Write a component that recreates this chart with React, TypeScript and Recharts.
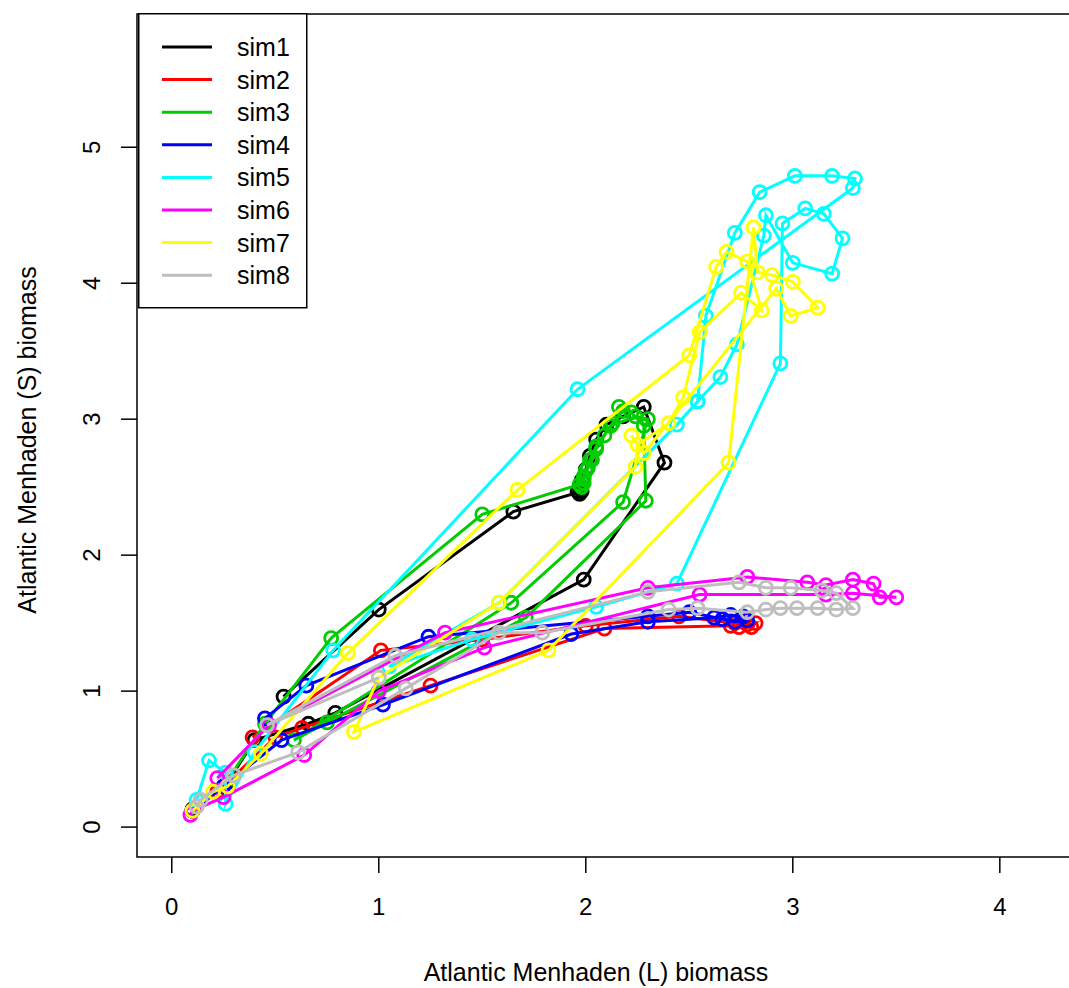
import React from "react"
import {
  ScatterChart,
  Scatter,
  XAxis,
  YAxis,
  Label,
  Legend,
  ReferenceArea,
} from "recharts"

// phase-plane trajectories, [L biomass, S biomass] per time step
const sim1: [number, number][] = [
  [0.10, 0.13], [0.27, 0.33], [0.40, 0.64], [0.66, 0.76], [0.79, 0.84], [1.99, 1.82],
  [2.38, 2.68], [2.28, 3.09], [2.18, 3.02], [2.10, 2.96], [2.05, 2.85], [2.02, 2.73],
  [2.00, 2.63], [1.98, 2.55], [1.97, 2.50], [1.96, 2.47], [1.97, 2.45], [1.98, 2.47],
  [1.65, 2.32], [1.00, 1.60], [0.54, 0.96],
]
const sim2: [number, number][] = [
  [0.10, 0.12], [0.22, 0.26], [0.50, 0.66], [0.63, 0.73], [1.25, 1.04], [2.09, 1.46],
  [2.70, 1.48], [2.74, 1.47], [2.80, 1.47], [2.82, 1.50], [2.78, 1.49], [2.72, 1.50],
  [2.45, 1.55], [2.00, 1.48], [1.50, 1.38], [1.01, 1.30], [0.39, 0.66],
]
const sim3: [number, number][] = [
  [0.10, 0.12], [0.25, 0.30], [0.45, 0.76], [0.77, 1.39], [1.50, 2.30], [1.97, 2.52],
  [1.99, 2.58], [2.01, 2.64], [2.03, 2.70], [2.05, 2.78], [2.09, 2.88], [2.13, 2.97],
  [2.18, 3.06], [2.16, 3.09], [2.22, 3.05], [2.28, 2.95], [2.29, 2.40], [1.71, 1.54],
  [0.75, 0.77], [0.59, 0.64], [1.64, 1.65], [2.18, 2.39], [2.30, 3.00], [2.24, 3.02],
  [2.12, 2.95], [2.05, 2.80], [2.02, 2.70], [2.00, 2.62], [1.99, 2.56], [1.98, 2.50],
  [1.99, 2.53],
]
const sim4: [number, number][] = [
  [0.10, 0.12], [0.25, 0.30], [0.53, 0.64], [1.02, 0.90], [1.93, 1.42], [2.30, 1.51],
  [2.62, 1.54], [2.70, 1.56], [2.76, 1.55], [2.78, 1.52], [2.72, 1.51], [2.66, 1.53],
  [2.50, 1.58], [2.30, 1.55], [1.24, 1.40], [0.65, 1.04], [0.45, 0.80],
]
const sim5: [number, number][] = [
  [0.12, 0.20], [0.18, 0.49], [0.26, 0.40], [0.26, 0.17], [0.40, 0.55], [0.78, 1.30],
  [1.96, 3.22], [3.29, 4.70], [3.30, 4.77], [3.19, 4.79], [3.01, 4.79], [2.84, 4.67],
  [2.72, 4.37], [2.58, 3.76], [2.54, 3.13], [2.44, 2.96], [1.58, 1.65], [1.05, 1.18],
  [1.45, 1.38], [2.05, 1.62], [2.44, 1.79], [2.94, 3.41], [2.95, 4.44], [3.06, 4.55],
  [3.15, 4.51], [3.24, 4.33], [3.19, 4.07], [3.00, 4.15], [2.87, 4.50], [2.86, 4.35],
  [2.73, 3.55], [2.65, 3.31], [2.54, 3.13],
]
const sim6: [number, number][] = [
  [0.09, 0.09], [0.10, 0.12], [0.25, 0.22], [0.64, 0.53], [1.00, 1.00], [1.51, 1.32],
  [2.55, 1.71], [3.16, 1.71], [3.29, 1.72], [3.50, 1.69], [3.42, 1.69], [3.39, 1.79],
  [3.29, 1.82], [3.16, 1.78], [3.07, 1.80], [2.78, 1.84], [2.30, 1.76], [1.32, 1.43],
  [0.47, 0.75], [0.22, 0.36],
]
const sim7: [number, number][] = [
  [0.10, 0.12], [0.20, 0.26], [0.27, 0.30], [0.43, 0.54], [0.85, 1.28], [1.67, 2.48],
  [2.50, 3.47], [2.63, 4.12], [2.68, 4.23], [2.78, 4.16], [2.85, 3.80], [2.75, 3.93],
  [2.55, 3.64], [2.47, 3.16], [2.40, 2.97], [2.25, 2.81], [2.24, 2.65], [1.58, 1.65],
  [1.00, 1.10], [0.88, 0.70], [1.82, 1.30], [2.69, 2.68], [2.81, 4.41], [2.83, 4.08],
  [2.90, 4.06], [3.00, 4.01], [3.12, 3.82], [2.99, 3.76], [2.92, 3.96], [2.28, 2.75],
  [2.22, 2.88],
]
const sim8: [number, number][] = [
  [0.12, 0.15], [0.14, 0.20], [0.30, 0.38], [0.61, 0.55], [1.13, 1.02], [1.58, 1.43],
  [1.79, 1.43], [2.40, 1.60], [2.54, 1.61], [2.78, 1.58], [2.87, 1.60], [2.94, 1.61],
  [3.02, 1.61], [3.12, 1.61], [3.21, 1.60], [3.29, 1.61], [3.21, 1.72], [3.14, 1.74],
  [2.99, 1.76], [2.87, 1.76], [2.74, 1.80], [2.30, 1.73], [1.08, 1.26], [0.46, 0.75],
  [1.00, 1.10],
]

const simNames = ["sim1", "sim2", "sim3", "sim4", "sim5", "sim6", "sim7", "sim8"]
const simData = [sim1, sim2, sim3, sim4, sim5, sim6, sim7, sim8]
const simColors = ["#000000", "#FF0000", "#00CD00", "#0000FF", "#00FFFF", "#FF00FF", "#FFFF00", "#BEBEBE"]

const xTicks = [0, 1, 2, 3, 4]
const yTicks = [0, 1, 2, 3, 4, 5]
const X_DOMAIN: [number, number] = [-0.168, 4.368]
const Y_DOMAIN: [number, number] = [-0.22, 5.98]

const FONT = '"Liberation Sans", Arial, sans-serif'

const ring = (color: string) => (props: any) => (
  <circle cx={props.cx} cy={props.cy} r={6.5} fill="none" stroke={color} strokeWidth={2.8} />
)

const XTick = ({ x, y, payload }: any) => (
  <text x={x} y={y + 40} textAnchor="middle" fontSize={24} fontFamily={FONT} fill="#000">
    {payload.value}
  </text>
)

const YTick = ({ y, payload }: any) => (
  <text
    transform={`translate(100, ${y}) rotate(-90)`}
    textAnchor="middle"
    fontSize={24}
    fontFamily={FONT}
    fill="#000"
  >
    {payload.value}
  </text>
)

const LegendBox = () => (
  <svg width={170} height={296} style={{ display: "block" }}>
    <rect x={0.75} y={0.75} width={168} height={294} fill="#fff" stroke="#000" strokeWidth={1.5} />
    {simNames.map((name, i) => {
      const cy = 34 + i * 32.6
      return (
        <g key={name}>
          <line x1={24} x2={74} y1={cy} y2={cy} stroke={simColors[i]} strokeWidth={3} />
          <text x={99} y={cy} dy="0.36em" fontSize={25} fontFamily={FONT} fill="#000">
            {name}
          </text>
        </g>
      )
    })}
  </svg>
)

export default function App() {
  return (
    <div
      style={{
        position: "absolute",
        left: 0,
        top: 0,
        width: 1069,
        height: 988,
        overflow: "hidden",
        background: "#fff",
      }}
    >
      <ScatterChart width={1080} height={988} margin={{ top: 14, right: 4, bottom: 0, left: 0 }}>
        <XAxis
          type="number"
          dataKey="x"
          domain={X_DOMAIN}
          ticks={xTicks}
          allowDataOverflow
          axisLine={false}
          tickLine={{ stroke: "#000", strokeWidth: 1.5 }}
          tickSize={16}
          height={131}
          tick={XTick}
        >
          <Label
            content={() => (
              <text x={596} y={981} textAnchor="middle" fontSize={25} fontFamily={FONT} fill="#000">
                Atlantic Menhaden (L) biomass
              </text>
            )}
          />
        </XAxis>
        <YAxis
          type="number"
          dataKey="y"
          domain={Y_DOMAIN}
          ticks={yTicks}
          allowDataOverflow
          axisLine={false}
          tickLine={{ stroke: "#000", strokeWidth: 1.5 }}
          tickSize={16}
          width={137}
          tick={YTick}
        >
          <Label
            content={() => (
              <text
                transform="translate(36, 440) rotate(-90)"
                textAnchor="middle"
                fontSize={25}
                fontFamily={FONT}
                fill="#000"
              >
                Atlantic Menhaden (S) biomass
              </text>
            )}
          />
        </YAxis>
        <ReferenceArea
          x1={X_DOMAIN[0]}
          x2={X_DOMAIN[1]}
          y1={Y_DOMAIN[0]}
          y2={Y_DOMAIN[1]}
          fill="none"
          stroke="#000"
          strokeWidth={1.5}
          ifOverflow="visible"
        />
        {simData.map((arr, i) => (
          <Scatter
            key={simNames[i]}
            name={simNames[i]}
            data={arr.map(([x, y]) => ({ x, y }))}
            fill={simColors[i]}
            line={{ stroke: simColors[i], strokeWidth: 3 }}
            lineType="joint"
            shape={ring(simColors[i])}
            isAnimationActive={false}
          />
        ))}
        <Legend
          layout="vertical"
          align="center"
          verticalAlign="middle"
          wrapperStyle={{ top: 13, left: 138, width: 170, height: 296 }}
          content={() => <LegendBox />}
        />
      </ScatterChart>
    </div>
  )
}
